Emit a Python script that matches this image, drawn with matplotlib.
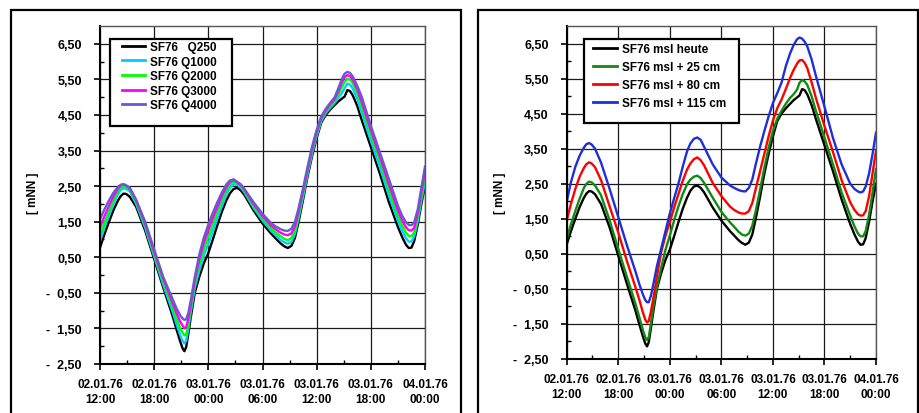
import matplotlib
matplotlib.use('Agg')
import matplotlib.pyplot as plt
from matplotlib.patches import Rectangle

plt.rcParams['font.family'] = ['Liberation Sans', 'DejaVu Sans']
plt.rcParams['font.weight'] = 'bold'

# hours after 02.01.76 12:00
hours = [0, 0.5, 1, 1.5, 2, 2.3, 2.6, 2.9, 3.3, 4,
         5, 6, 7, 8, 8.5, 8.9, 9.15, 9.35, 9.55, 9.8,
         10.1, 10.5, 11, 11.5, 12, 12.5, 13, 13.5, 14, 14.4,
         14.8, 15.2, 15.6, 16, 17, 18, 19, 19.5, 20, 20.4,
         20.8, 21.2, 21.6, 22, 22.5, 23, 23.5, 24, 24.5, 25,
         25.5, 26, 26.4, 26.8, 27.1, 27.4, 27.7, 28, 28.5, 29,
         30, 31, 32, 33, 33.5, 33.9, 34.2, 34.5, 34.8, 35.2,
         35.6, 36]

# left panel (discharge scenarios) [mNN]
q250 = [0.77, 1.15, 1.50, 1.83, 2.10, 2.22, 2.29, 2.28, 2.20, 1.92,
        1.25, 0.45, -0.35, -1.12, -1.55, -1.88, -2.06, -2.14, -2.02, -1.62,
        -1.12, -0.50, -0.05, 0.33, 0.62, 1.00, 1.40, 1.78, 2.10, 2.30,
        2.42, 2.45, 2.38, 2.25, 1.82, 1.45, 1.15, 1.02, 0.89, 0.81,
        0.76, 0.82, 1.05, 1.50, 2.12, 2.78, 3.35, 3.85, 4.28, 4.50,
        4.65, 4.78, 4.88, 4.96, 5.02, 5.20, 5.17, 5.05, 4.75, 4.35,
        3.60, 2.85, 2.05, 1.35, 1.05, 0.85, 0.76, 0.77, 0.95, 1.42,
        2.00, 2.50]
q1000 = [0.96, 1.35, 1.68, 2.00, 2.28, 2.39, 2.44, 2.42, 2.35, 2.00,
         1.33, 0.52, -0.27, -1.00, -1.40, -1.70, -1.85, -1.92, -1.85, -1.48,
         -0.98, -0.36, 0.13, 0.55, 0.88, 1.24, 1.60, 1.95, 2.27, 2.46,
         2.55, 2.54, 2.46, 2.32, 1.89, 1.53, 1.23, 1.11, 0.99, 0.92,
         0.88, 0.93, 1.16, 1.60, 2.20, 2.85, 3.42, 3.91, 4.32, 4.55,
         4.70, 4.84, 4.98, 5.12, 5.25, 5.38, 5.35, 5.24, 4.95, 4.55,
         3.78, 3.03, 2.24, 1.52, 1.23, 1.03, 0.94, 0.94, 1.08, 1.52,
         2.10, 2.62]
q2000 = [1.10, 1.48, 1.80, 2.10, 2.37, 2.46, 2.50, 2.48, 2.40, 2.05,
         1.40, 0.58, -0.18, -0.88, -1.24, -1.50, -1.62, -1.70, -1.66, -1.36,
         -0.86, -0.24, 0.30, 0.72, 1.08, 1.42, 1.78, 2.10, 2.38, 2.55,
         2.62, 2.58, 2.50, 2.36, 1.95, 1.60, 1.30, 1.19, 1.09, 1.02,
         0.98, 1.04, 1.26, 1.69, 2.28, 2.91, 3.48, 3.96, 4.36, 4.59,
         4.75, 4.90, 5.08, 5.28, 5.43, 5.52, 5.49, 5.39, 5.11, 4.72,
         3.95, 3.20, 2.40, 1.67, 1.38, 1.19, 1.10, 1.09, 1.20, 1.62,
         2.22, 2.78]
q3000 = [1.34, 1.66, 1.95, 2.22, 2.44, 2.52, 2.55, 2.52, 2.44, 2.10,
         1.45, 0.65, -0.10, -0.76, -1.08, -1.32, -1.42, -1.50, -1.46, -1.20,
         -0.76, -0.14, 0.45, 0.90, 1.27, 1.60, 1.92, 2.22, 2.48, 2.62,
         2.67, 2.61, 2.53, 2.40, 2.00, 1.66, 1.38, 1.28, 1.19, 1.14,
         1.12, 1.17, 1.38, 1.79, 2.37, 2.98, 3.55, 4.02, 4.41, 4.63,
         4.80, 4.95, 5.17, 5.42, 5.56, 5.62, 5.59, 5.49, 5.22, 4.86,
         4.08, 3.33, 2.55, 1.82, 1.52, 1.34, 1.26, 1.25, 1.33, 1.73,
         2.34, 2.92]
q4000 = [1.57, 1.85, 2.10, 2.32, 2.48, 2.54, 2.55, 2.52, 2.45, 2.12,
         1.50, 0.72, -0.05, -0.65, -0.95, -1.14, -1.22, -1.26, -1.24, -1.05,
         -0.65, -0.05, 0.58, 1.05, 1.42, 1.75, 2.05, 2.32, 2.55, 2.66,
         2.69, 2.62, 2.55, 2.42, 2.05, 1.72, 1.45, 1.36, 1.29, 1.25,
         1.24, 1.30, 1.50, 1.88, 2.45, 3.05, 3.62, 4.08, 4.45, 4.67,
         4.84, 5.00, 5.25, 5.52, 5.66, 5.71, 5.68, 5.58, 5.32, 5.00,
         4.20, 3.45, 2.70, 1.95, 1.65, 1.48, 1.41, 1.40, 1.48, 1.85,
         2.45, 3.05]

# right panel (sea level scenarios) [mNN]
msl_heute = q250
msl_25 = [0.92, 1.35, 1.72, 2.07, 2.38, 2.50, 2.56, 2.54, 2.45, 2.17,
          1.45, 0.64, -0.15, -0.92, -1.35, -1.70, -1.88, -1.96, -1.88, -1.50,
          -1.00, -0.45, 0.10, 0.62, 1.02, 1.45, 1.85, 2.20, 2.48, 2.62,
          2.70, 2.73, 2.66, 2.52, 2.10, 1.70, 1.40, 1.27, 1.13, 1.05,
          1.02, 1.08, 1.30, 1.72, 2.32, 2.95, 3.52, 4.00, 4.35, 4.58,
          4.78, 4.95, 5.05, 5.18, 5.38, 5.46, 5.42, 5.32, 5.00, 4.58,
          3.82, 3.05, 2.25, 1.59, 1.28, 1.08, 1.00, 1.00, 1.15, 1.62,
          2.25, 2.92]
msl_80 = [1.45, 1.93, 2.35, 2.70, 2.95, 3.06, 3.11, 3.08, 2.97, 2.60,
          1.85, 1.11, 0.30, -0.45, -0.85, -1.20, -1.38, -1.46, -1.42, -1.15,
          -0.75, -0.15, 0.55, 1.02, 1.40, 1.82, 2.20, 2.58, 2.90, 3.08,
          3.20, 3.25, 3.17, 3.02, 2.52, 2.15, 1.85, 1.75, 1.68, 1.65,
          1.65, 1.72, 1.95, 2.35, 2.85, 3.35, 3.85, 4.30, 4.65, 4.90,
          5.20, 5.52, 5.74, 5.92, 6.02, 6.03, 5.95, 5.80, 5.40, 4.95,
          4.15, 3.40, 2.60, 1.97, 1.75, 1.63, 1.59, 1.60, 1.72, 2.15,
          2.80, 3.44]
msl_115 = [1.99, 2.55, 2.98, 3.30, 3.53, 3.63, 3.66, 3.62, 3.50, 3.10,
           2.35, 1.55, 0.75, 0.00, -0.40, -0.68, -0.82, -0.88, -0.88, -0.70,
           -0.35, 0.15, 0.65, 1.15, 1.65, 2.08, 2.50, 2.98, 3.42, 3.65,
           3.78, 3.82, 3.75, 3.55, 3.05, 2.68, 2.45, 2.38, 2.32, 2.29,
           2.28, 2.38, 2.62, 3.05, 3.55, 4.00, 4.42, 4.80, 5.08, 5.38,
           5.85, 6.22, 6.45, 6.62, 6.67, 6.64, 6.55, 6.42, 6.05, 5.58,
           4.70, 3.80, 3.05, 2.50, 2.35, 2.28, 2.25, 2.28, 2.42, 2.80,
           3.35, 3.96]

left_labels = ['SF76   Q250', 'SF76 Q1000', 'SF76 Q2000', 'SF76 Q3000', 'SF76 Q4000']
right_labels = ['SF76 msl heute', 'SF76 msl + 25 cm', 'SF76 msl + 80 cm', 'SF76 msl + 115 cm']

x_ticks = [0, 6, 12, 18, 24, 30, 36]
x_ticklabels = ['02.01.76\n12:00', '02.01.76\n18:00', '03.01.76\n00:00', '03.01.76\n06:00',
                '03.01.76\n12:00', '03.01.76\n18:00', '04.01.76\n00:00']
y_ticks = [-2.5, -1.5, -0.5, 0.5, 1.5, 2.5, 3.5, 4.5, 5.5, 6.5]
y_ticklabels = ['-  2,50', '-  1,50', '-  0,50', '0,50', '1,50', '2,50', '3,50', '4,50', '5,50', '6,50']
y_label = '[ mNN ]'

left_colors = ['#000000', '#00CCFF', '#00FF00', '#FF00FF', '#6A5ACD']
right_colors = ['#000000', '#108A10', '#FF0000', '#1F2FD8']

W, H = 919, 414
fig = plt.figure(figsize=(W / 100, H / 100), dpi=100)


def fx(px):
    return px / W


def fy(py):
    return 1 - py / H


def style_axes(ax):
    ax.set_xlim(0, 36)
    ax.set_ylim(-2.5, 7.0)
    ax.set_xticks(x_ticks)
    ax.set_xticklabels(x_ticklabels, fontsize=8.5, fontweight='bold', linespacing=1.3)
    ax.set_xticks([3, 9, 15, 21, 27, 33], minor=True)
    ax.set_yticks(y_ticks)
    ax.set_yticklabels(y_ticklabels, fontsize=9, fontweight='bold')
    ax.set_yticks([-2, -1, 0, 1, 2, 3, 4, 5, 6], minor=True)
    ax.tick_params(which='major', direction='out', length=4, width=1.2, color='black')
    ax.tick_params(axis='y', which='major', pad=9)
    ax.tick_params(axis='x', which='major', pad=6)
    ax.tick_params(which='minor', direction='in', length=3, width=1.0, color='black')
    ax.grid(True, which='major', color='#1a1a1a', linewidth=0.9)
    ax.set_axisbelow(True)
    for s in ['left', 'bottom']:
        ax.spines[s].set_linewidth(1.5)
        ax.spines[s].set_color('black')
    for s in ['top', 'right']:
        ax.spines[s].set_linewidth(1.0)
        ax.spines[s].set_color('#555555')


# outer frames
fig.add_artist(Rectangle((fx(10.5), -0.1), fx(461) - fx(10.5), fy(10.5) + 0.1, fill=False,
                         lw=1.6, ec='black', transform=fig.transFigure, clip_on=False))
fig.add_artist(Rectangle((fx(477.5), -0.1), fx(918) - fx(477.5), fy(10.5) + 0.1, fill=False,
                         lw=1.6, ec='black', transform=fig.transFigure, clip_on=False))

# left axes
axL = fig.add_axes([fx(100), fy(365), fx(425) - fx(100), fy(27) - fy(365)])
style_axes(axL)
handlesL = []
for vals, c, lab in zip([q250, q1000, q2000, q3000, q4000], left_colors, left_labels):
    ln, = axL.plot(hours, vals, color=c, lw=1.7, label=lab, solid_joinstyle='round')
    handlesL.append(ln)

# right axes
axR = fig.add_axes([fx(566.7), fy(360), fx(876) - fx(566.7), fy(27) - fy(360)])
style_axes(axR)
handlesR = []
for vals, c, lab in zip([msl_heute, msl_25, msl_80, msl_115], right_colors, right_labels):
    ln, = axR.plot(hours, vals, color=c, lw=1.7, label=lab, solid_joinstyle='round')
    handlesR.append(ln)

# y labels
fig.text(fx(33), fy(193), y_label, rotation=90, ha='center', va='center', fontsize=8.5,
         fontweight='bold')
fig.text(fx(500), fy(193), y_label, rotation=90, ha='center', va='center', fontsize=8.5,
         fontweight='bold')

# legend frames
fig.add_artist(Rectangle((fx(110), fy(127)), fx(232) - fx(110), fy(40) - fy(127), fc='white',
                         ec='black', lw=1.6, transform=fig.transFigure, zorder=4))
fig.add_artist(Rectangle((fx(584), fy(124)), fx(739) - fx(584), fy(40) - fy(124), fc='white',
                         ec='black', lw=1.6, transform=fig.transFigure, zorder=4))

legL = fig.legend(handles=handlesL, loc='upper left', bbox_to_anchor=(fx(122), fy(42)),
                  frameon=False, borderpad=0, borderaxespad=0, handlelength=1.95,
                  handletextpad=0.45, labelspacing=0.22, prop={'size': 8.5, 'weight': 'bold'})
legR = fig.legend(handles=handlesR, loc='upper left', bbox_to_anchor=(fx(593), fy(44)),
                  frameon=False, borderpad=0, borderaxespad=0, handlelength=2.0,
                  handletextpad=0.42, labelspacing=0.52, prop={'size': 8.5, 'weight': 'bold'})
for leg in (legL, legR):
    leg.set_zorder(5)
    for h in leg.legend_handles:
        h.set_linewidth(2.0)

fig.savefig('out.png', dpi=100)
